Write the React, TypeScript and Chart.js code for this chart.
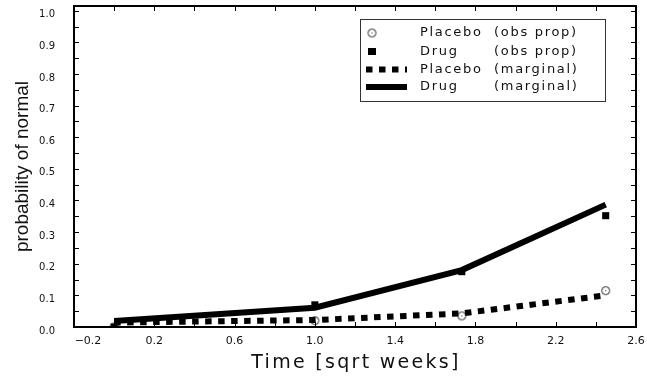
import React, { useEffect, useRef } from 'react';
import { Chart, registerables } from 'chart.js';

Chart.register(...registerables);

// ---- data ----
const times = [0, 1, 1.732, 2.449];
const placeboObs = [0.0, 0.02, 0.035, 0.115];
const drugObs = [0.0, 0.07, 0.175, 0.352];
const placeboMarginal = [0.014, 0.022, 0.043, 0.1];
const drugMarginal = [0.019, 0.061, 0.18, 0.387];

const xTickValues = [-0.2, 0.2, 0.6, 1.0, 1.4, 1.8, 2.2, 2.6];
const xTickLabels = ['        \u22120.2', '0.2', '0.6', '1.0', '1.4', '1.8', '2.2', '2.6'];
const yTickValues = [0, 0.1, 0.2, 0.3, 0.4, 0.5, 0.6, 0.7, 0.8, 0.9, 1.0];
const yTickLabels = ['0.0', '0.1', '0.2', '0.3', '0.4', '0.5', '0.6', '0.7', '0.8', '0.9', '1.0'];
const xInnerTicks = [-0.2, 0, 0.2, 0.4, 0.6, 0.8, 1.0, 1.2, 1.4, 1.6, 1.8, 2.0, 2.2, 2.4, 2.6];
const yInnerTicks = [0, 0.05, 0.1, 0.15, 0.2, 0.25, 0.3, 0.35, 0.4, 0.45, 0.5, 0.55, 0.6, 0.65, 0.7, 0.75, 0.8, 0.85, 0.9, 0.95, 1.0];

const legendNames = ['Placebo', 'Drug', 'Placebo', 'Drug'];
const legendKinds = ['(obs prop)', '(obs prop)', '(marginal)', '(marginal)'];
const xTitle = 'Time [sqrt weeks]';
const yTitle = 'probability of normal';

function makeCircleMarker(): HTMLCanvasElement {
  const c = document.createElement('canvas');
  c.width = 11;
  c.height = 11;
  const g = c.getContext('2d')!;
  g.strokeStyle = '#222';
  g.lineWidth = 1;
  g.beginPath();
  g.arc(5.5, 5.5, 4, 0, Math.PI * 2);
  g.stroke();
  g.fillStyle = '#222';
  g.fillRect(5, 5, 1, 1);
  return c;
}

const decorPlugin = {
  id: 'decor',
  afterDraw(chart: any) {
    const { ctx, chartArea: a, scales } = chart;
    const x = scales.x;
    const y = scales.y;
    ctx.save();
    // inner ticks
    ctx.strokeStyle = '#000';
    ctx.lineWidth = 1;
    ctx.beginPath();
    for (const v of xInnerTicks) {
      const px = Math.round(x.getPixelForValue(v)) + 0.5;
      ctx.moveTo(px, a.bottom);
      ctx.lineTo(px, a.bottom - 5);
      ctx.moveTo(px, a.top);
      ctx.lineTo(px, a.top + 5);
    }
    for (const v of yInnerTicks) {
      const py = Math.round(y.getPixelForValue(v)) + 0.5;
      ctx.moveTo(a.left, py);
      ctx.lineTo(a.left + 5, py);
      ctx.moveTo(a.right, py);
      ctx.lineTo(a.right - 5, py);
    }
    ctx.stroke();
    // frame
    ctx.lineWidth = 2;
    ctx.strokeRect(a.left, a.top, a.right - a.left, a.bottom - a.top);

    // x title
    ctx.fillStyle = '#111';
    ctx.font = '19px "DejaVu Sans"';
    (ctx as any).letterSpacing = '2.3px';
    ctx.textAlign = 'center';
    ctx.textBaseline = 'middle';
    ctx.fillText(xTitle, (a.left + a.right) / 2 + 1, 363);

    // legend
    const bx = 360, by = 19, bw = 245, bh = 82;
    (ctx as any).letterSpacing = '0px';
    ctx.lineWidth = 1;
    ctx.strokeStyle = '#333';
    ctx.strokeRect(bx + 0.5, by + 0.5, bw, bh);
    const rows = [33, 51.5, 69.5, 87];
    // symbols
    const circ = makeCircleMarker();
    ctx.drawImage(circ, 372 - 5.5, rows[0] - 5.5);
    ctx.fillStyle = '#000';
    ctx.fillRect(368, rows[1] - 3.5, 8, 7);
    ctx.strokeStyle = '#000';
    ctx.lineWidth = 6;
    ctx.lineCap = 'butt';
    ctx.setLineDash([6.5, 6.5]);
    ctx.beginPath();
    ctx.moveTo(366, rows[2]);
    ctx.lineTo(407, rows[2]);
    ctx.stroke();
    ctx.setLineDash([]);
    ctx.beginPath();
    ctx.moveTo(366, rows[3]);
    ctx.lineTo(407, rows[3]);
    ctx.stroke();
    // text
    ctx.fillStyle = '#111';
    ctx.font = '13px "DejaVu Sans"';
    (ctx as any).letterSpacing = '1.7px';
    ctx.textAlign = 'left';
    ctx.textBaseline = 'middle';
    for (let i = 0; i < 4; i++) {
      ctx.fillText(legendNames[i], 420, rows[i]);
      ctx.fillText(legendKinds[i], 494, rows[i]);
    }
    (ctx as any).letterSpacing = '0px';
    ctx.restore();
  },
};

export default function App() {
  const ref = useRef<HTMLCanvasElement | null>(null);
  useEffect(() => {
    document.body.style.margin = '0';
    const canvas = ref.current!;
    const circle = makeCircleMarker();
    const pts = (vals: number[]) => times.map((t, i) => ({ x: t, y: vals[i] }));
    const chart = new Chart(canvas, {
      type: 'line',
      data: {
        datasets: [
          {
            label: 'Placebo (obs prop)',
            data: pts(placeboObs),
            showLine: false,
            pointStyle: circle as any,
            pointRadius: 4,
            borderColor: '#222',
            backgroundColor: '#222',
          },
          {
            label: 'Drug (obs prop)',
            data: pts(drugObs),
            showLine: false,
            pointStyle: 'rect',
            pointRadius: 5,
            borderWidth: 0,
            borderColor: '#000',
            backgroundColor: '#000',
          },
          {
            label: 'Placebo (marginal)',
            data: pts(placeboMarginal),
            borderColor: '#000',
            borderWidth: 6,
            borderDash: [6.5, 6.5],
            borderCapStyle: 'butt',
            pointRadius: 0,
            fill: false,
            tension: 0,
          },
          {
            label: 'Drug (marginal)',
            data: pts(drugMarginal),
            borderColor: '#000',
            borderWidth: 6,
            borderCapStyle: 'butt',
            pointRadius: 0,
            fill: false,
            tension: 0,
          },
        ],
      },
      options: {
        responsive: false,
        animation: false,
        layout: { padding: { left: 0, right: 11, top: 6, bottom: 0 } },
        plugins: { legend: { display: false }, tooltip: { enabled: false } },
        scales: {
          x: {
            type: 'linear',
            min: -0.2,
            max: 2.6,
            afterBuildTicks: (s: any) => {
              s.ticks = xTickValues.map((v) => ({ value: v }));
            },
            afterFit: (s: any) => {
              s.height = 51;
              s.paddingLeft = 0;
              s.paddingRight = 0;
            },
            ticks: {
              autoSkip: false,
              maxRotation: 0,
              padding: 8,
              color: '#111',
              font: { family: 'DejaVu Sans', size: 11 },
              callback: (v: any) => {
                const i = xTickValues.findIndex((t) => Math.abs(t - Number(v)) < 1e-6);
                return i >= 0 ? xTickLabels[i] : '';
              },
            },
            grid: { display: false, drawTicks: false },
            border: { display: false },
          },
          y: {
            type: 'linear',
            min: 0,
            max: 1.015,
            afterBuildTicks: (s: any) => {
              s.ticks = yTickValues.map((v) => ({ value: v }));
            },
            afterFit: (s: any) => {
              s.width = 74;
              s.paddingTop = 0;
              s.paddingBottom = 0;
            },
            ticks: {
              autoSkip: false,
              padding: 19,
              labelOffset: 4,
              color: '#111',
              font: { family: 'DejaVu Sans', size: 10 },
              callback: (v: any) => {
                const i = yTickValues.findIndex((t) => Math.abs(t - Number(v)) < 1e-6);
                return i >= 0 ? yTickLabels[i] : '';
              },
            },
            title: {
              display: true,
              text: yTitle,
              color: '#111',
              font: { family: 'Liberation Sans', size: 19 },
              padding: { top: 11, bottom: 0 },
            },
            grid: { display: false, drawTicks: false },
            border: { display: false },
          },
        },
      },
      plugins: [decorPlugin],
    });
    return () => chart.destroy();
  }, []);
  return <canvas ref={ref} width={647} height={378} style={{ display: 'block' }} />;
}
